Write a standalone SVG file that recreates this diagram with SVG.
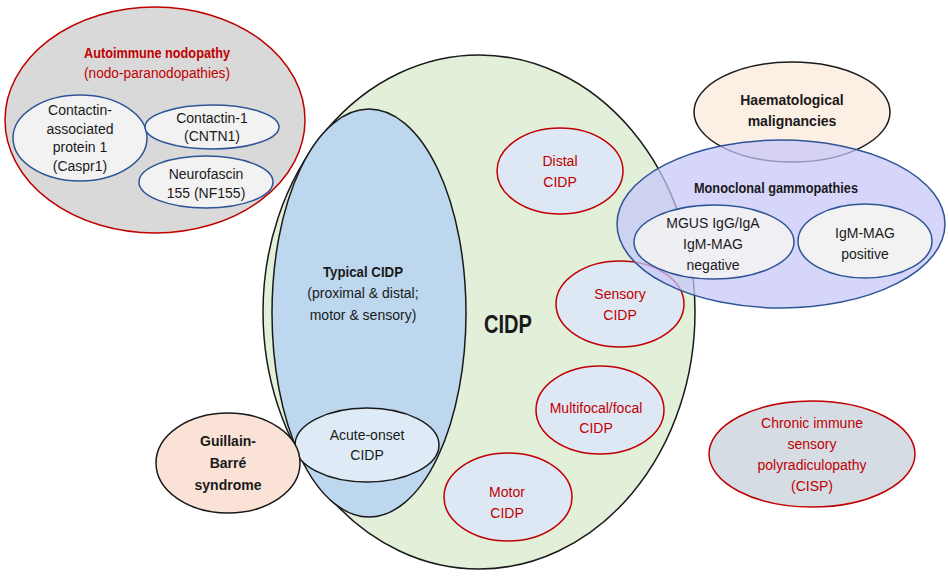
<svg xmlns="http://www.w3.org/2000/svg" width="948" height="577" viewBox="0 0 948 577">
<style>
text{font-family:"Liberation Sans",Arial,sans-serif;font-size:14px;text-anchor:middle;fill:#1a1a1a}
.b{font-weight:bold}
.r{fill:#c00000}
.blk{stroke:#1a1a1a;stroke-width:1.5}
.red{stroke:#c00000;stroke-width:1.5}
.blu{stroke:#2f5597;stroke-width:1.5}
.sub{fill:#dee8f4}
.inner{fill:#f2f2f2}
</style>
<rect width="948" height="577" fill="#ffffff"/>
<g id="cidp">
<ellipse cx="479" cy="312" rx="216" ry="257" fill="#e2efd9" class="blk"/>
<text x="508" y="333" class="b" style="font-size:26px" textLength="48" lengthAdjust="spacingAndGlyphs">CIDP</text>
</g>
<g id="typical-cidp">
<ellipse cx="369" cy="313" rx="97" ry="204" fill="#bdd7ee" class="blk"/>
<text x="363" y="277" class="b" textLength="80" lengthAdjust="spacingAndGlyphs">Typical CIDP</text>
<text x="363" y="298">(proximal &amp; distal;</text>
<text x="363" y="320">motor &amp; sensory)</text>
</g>
<g id="acute-onset">
<ellipse cx="367" cy="445" rx="72" ry="37" fill="#deebf7" class="blk"/>
<text x="367" y="440">Acute-onset</text>
<text x="367" y="460">CIDP</text>
</g>
<g id="distal">
<ellipse cx="560" cy="171" rx="63" ry="43" class="sub red"/>
<text x="560" y="166" class="r">Distal</text>
<text x="560" y="187" class="r">CIDP</text>
</g>
<g id="sensory">
<ellipse cx="620" cy="304" rx="64" ry="43" class="sub red"/>
<text x="620" y="299" class="r">Sensory</text>
<text x="620" y="320" class="r">CIDP</text>
</g>
<g id="multifocal">
<ellipse cx="600" cy="410" rx="64" ry="44" class="sub red"/>
<text x="596" y="413" class="r">Multifocal/focal</text>
<text x="596" y="433" class="r">CIDP</text>
</g>
<g id="motor">
<ellipse cx="508" cy="497" rx="64" ry="44" class="sub red"/>
<text x="507" y="497" class="r">Motor</text>
<text x="507" y="518" class="r">CIDP</text>
</g>
<g id="autoimmune">
<ellipse cx="155" cy="120" rx="150" ry="113" fill="#d9d9d9" class="red"/>
<text x="157" y="58" class="b r" textLength="146" lengthAdjust="spacingAndGlyphs">Autoimmune nodopathy</text>
<text x="157" y="78" class="r" textLength="146" lengthAdjust="spacingAndGlyphs">(nodo-paranodopathies)</text>
</g>
<g id="caspr1">
<ellipse cx="80" cy="138" rx="67" ry="43" class="inner blu"/>
<text x="80" y="115">Contactin-</text>
<text x="80" y="134">associated</text>
<text x="80" y="152">protein 1</text>
<text x="80" y="171">(Caspr1)</text>
</g>
<g id="cntn1">
<ellipse cx="212" cy="127" rx="67" ry="22" class="inner blu"/>
<text x="212" y="123">Contactin-1</text>
<text x="212" y="141">(CNTN1)</text>
</g>
<g id="nf155">
<ellipse cx="206" cy="182" rx="67" ry="26" class="inner blu"/>
<text x="206" y="179">Neurofascin</text>
<text x="206" y="198">155 (NF155)</text>
</g>
<g id="gbs">
<ellipse cx="228" cy="463" rx="72" ry="50" fill="#fae3d6" class="blk"/>
<text x="228" y="446" class="b">Guillain-</text>
<text x="228" y="468" class="b">Barré</text>
<text x="228" y="490" class="b">syndrome</text>
</g>
<g id="haematological">
<ellipse cx="792" cy="112" rx="98" ry="50" fill="#fcefe3" class="blk"/>
<text x="792" y="105" class="b">Haematological</text>
<text x="792" y="126" class="b">malignancies</text>
</g>
<g id="monoclonal">
<ellipse cx="781" cy="224" rx="164" ry="84" fill="#c6c6fa" fill-opacity="0.72" class="blu"/>
<text x="776" y="193" class="b" textLength="164" lengthAdjust="spacingAndGlyphs">Monoclonal gammopathies</text>
</g>
<g id="mgus">
<ellipse cx="714" cy="242" rx="80" ry="37" fill="#f2f2f2" fill-opacity="0.88" class="blu"/>
<text x="713" y="228">MGUS IgG/IgA</text>
<text x="713" y="249">IgM-MAG</text>
<text x="713" y="270">negative</text>
</g>
<g id="igm-mag-positive">
<ellipse cx="865" cy="241" rx="67" ry="37" class="inner blu"/>
<text x="865" y="238">IgM-MAG</text>
<text x="865" y="259">positive</text>
</g>
<g id="cisp">
<ellipse cx="812" cy="454" rx="103" ry="53" fill="#d6dce4" class="red"/>
<text x="812" y="428" class="r">Chronic immune</text>
<text x="812" y="449" class="r">sensory</text>
<text x="812" y="470" class="r">polyradiculopathy</text>
<text x="812" y="491" class="r">(CISP)</text>
</g>
<g id="connectors"></g>
</svg>
